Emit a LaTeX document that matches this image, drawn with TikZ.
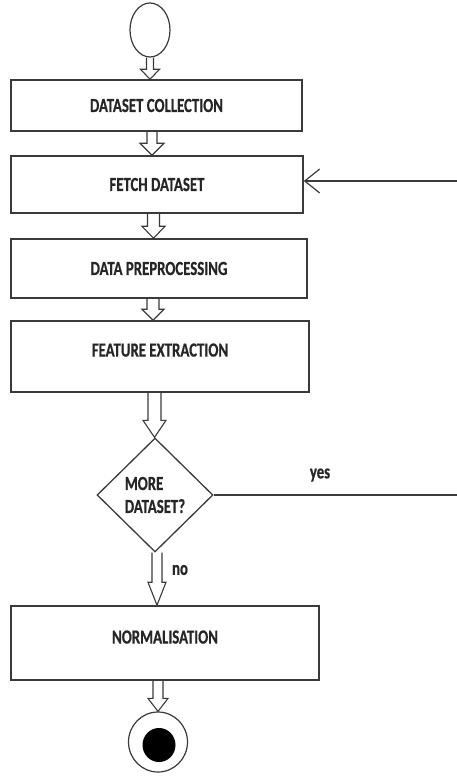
\documentclass[tikz,border=0pt]{standalone}
\usepackage{fontspec}
\newfontfamily\lblfont{Carlito}[FakeStretch=0.74, FakeBold=0.6]
\usetikzlibrary{shapes.geometric,arrows.meta,calc}

\definecolor{edge}{HTML}{3A3A3A}
\definecolor{ink}{HTML}{262626}

\tikzset{
  lbl/.style={font=\lblfont\bfseries\fontsize{20}{23}\selectfont},
  stepbox/.style={draw=edge, line width=1.5pt, rectangle, inner sep=0pt,
    text=ink, lbl},
  decision/.style={draw=edge, line width=1.3pt, diamond, inner sep=0pt,
    text=ink, align=left, lbl},
  terminal/.style={draw=edge, line width=1.2pt, ellipse, inner sep=0pt},
  blockarr/.style={draw=edge, line width=1.1pt, line join=miter},
  flowline/.style={draw=edge, line width=1.2pt},
  tag/.style={text=ink, inner sep=0pt, lbl}
}

% hollow block arrow from the bottom of #1 to the top of #2, centred at x=#3
% #4 shaft half-width, #5 head half-width, #6 head length (all in pt)
\newcommand\blockarrow[6]{%
  \draw[blockarr] let \p1=(#1.south), \p2=(#2.north) in
    ({#3pt-#4pt},\y1) -- ({#3pt-#4pt},{\y2+#6pt}) -- ({#3pt-#5pt},{\y2+#6pt})
    -- (#3pt,\y2) -- ({#3pt+#5pt},{\y2+#6pt}) -- ({#3pt+#4pt},{\y2+#6pt})
    -- ({#3pt+#4pt},\y1);}

\begin{document}
\begin{tikzpicture}[x=1pt,y=-1pt]
\useasboundingbox (0,0) rectangle (457,777);

% start
\node[terminal, minimum width=40pt, minimum height=54pt] (start) at (150,30) {};

% process steps
\node[stepbox, minimum width=291pt, minimum height=51pt] (dc) at (156.5,105.5) {DATASET COLLECTION};
\node[stepbox, minimum width=292pt, minimum height=57pt] (fd) at (157,184.5) {FETCH DATASET};
\node[stepbox, minimum width=296pt, minimum height=59pt] (dp) at (159,268.5) {DATA PREPROCESSING};
\node[stepbox, minimum width=298pt, minimum height=71pt, text depth=13pt] (fe) at (160,356.5) {FEATURE EXTRACTION};

% decision
\node[decision, minimum width=116pt, minimum height=114pt] (md) at (155,495) {MORE\\DATASET?};

\node[stepbox, minimum width=308pt, minimum height=74pt, text depth=12pt] (nm) at (165,643) {NORMALISATION};

% end
\node[terminal, minimum width=59pt, minimum height=60pt] (endo) at (158,742) {};
\node[ellipse, fill=black, inner sep=0pt, minimum width=33pt, minimum height=34pt] (endi) at (159,745) {};

% hollow flow arrows
\blockarrow{start}{dc}{150}{3.5}{9.5}{10}
\blockarrow{dc}{fd}{152}{5}{12}{12}
\blockarrow{fd}{dp}{153.5}{6}{11.5}{12}
\blockarrow{dp}{fe}{153}{6}{11}{11}
\blockarrow{fe}{md}{154.5}{6.5}{11.5}{17}
\blockarrow{md}{nm}{157}{5}{9}{23}
\blockarrow{nm}{endo}{158}{5}{10}{13}

% loop back for more data
\coordinate (yesend) at (457,495);
\coordinate (backin) at (457,181);
\draw[flowline] (md.east) -- (yesend);
\draw[flowline, -{Straight Barb[length=15pt, width=24pt, line width=1.2pt]}] (backin) -- (fd.east |- backin);

% branch labels
\node[tag] (yes) at (320,475) {yes};
\node[tag] (no) at (180,570) {no};
\end{tikzpicture}
\end{document}
